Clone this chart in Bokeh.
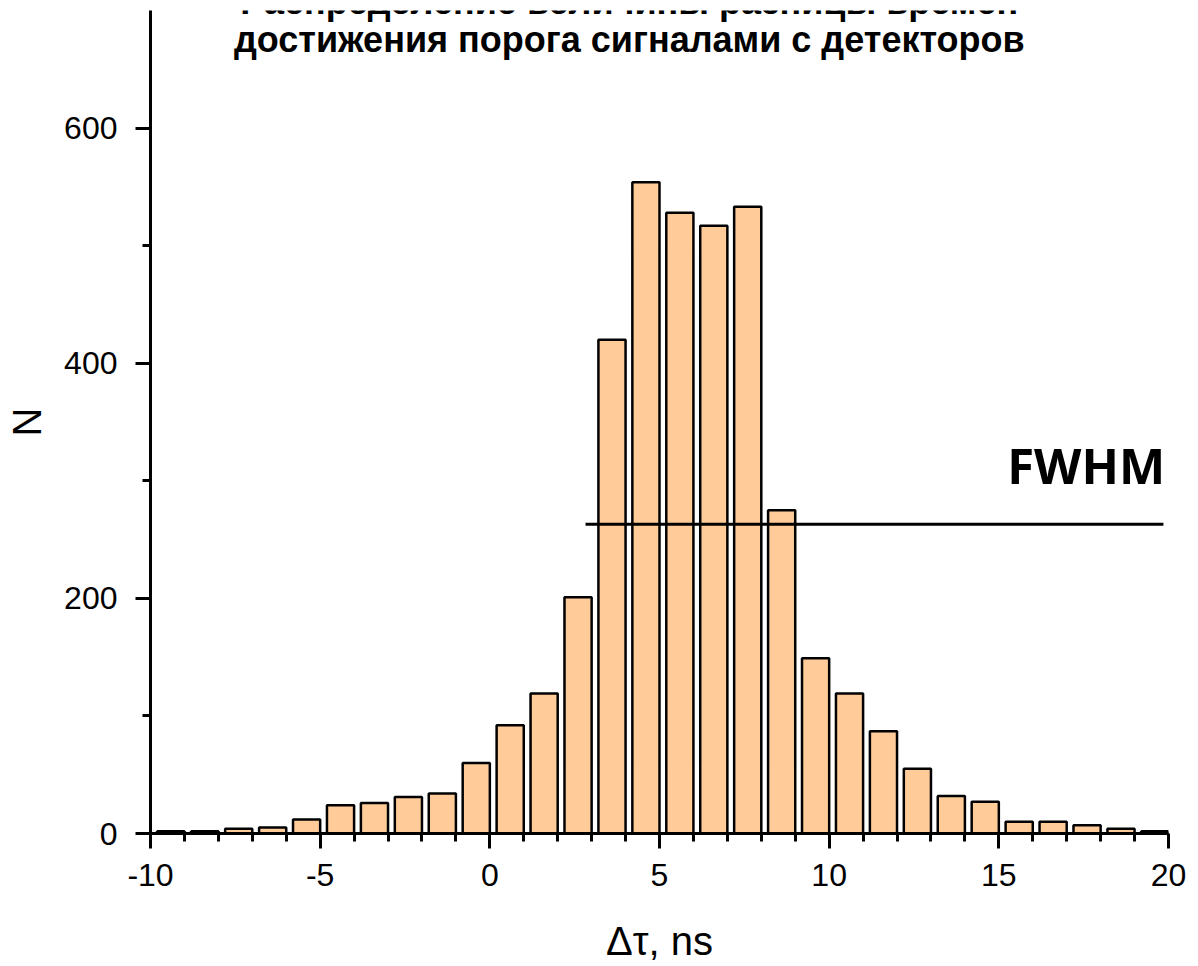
from bokeh.plotting import figure
from bokeh.models import FixedTicker, Label, ColumnDataSource
from bokeh.embed import file_html
from bokeh.resources import INLINE

# ---- data ----
bin_start = list(range(-10, 20))
counts = [2, 2, 4, 5, 12, 24, 26, 31, 34, 60,
          92, 119, 201, 420, 554, 528, 517, 533, 275, 149,
          119, 87, 55, 32, 27, 10, 10, 7, 4, 2]
fwhm_x = [2.82, 19.85]
fwhm_level = 263
x_major = [-10, -5, 0, 5, 10, 15, 20]
x_minor = [v for v in range(-10, 21) if v % 5 != 0]
x_labels = {-10: "-10", -5: "-5"}
y_major = [0, 200, 400, 600]
y_minor = [100, 300, 500]
title_lines = ["Распределение величины разницы времен",
               "достижения порога сигналами с детекторов"]

bar_gap = 0.2
src = ColumnDataSource(dict(
    left=[b + bar_gap for b in bin_start],
    right=[b + 1 for b in bin_start],
    top=counts,
    bottom=[0] * len(counts),
))

p = figure(width=1198, height=966, x_range=(-10, 20), y_range=(0, 700),
           output_backend="svg", toolbar_location=None,
           min_border_left=150, min_border_right=30,
           min_border_top=10, min_border_bottom=133)
p.outline_line_color = None
p.grid.visible = False
p.background_fill_color = "white"

p.quad(left="left", right="right", top="top", bottom="bottom", source=src,
       fill_color="#FFCC99", line_color="black", line_width=2.5)

p.line(x=fwhm_x, y=[fwhm_level, fwhm_level], line_color="black", line_width=3)

FONT = "Liberation Sans"
for ax in (p.xaxis[0], p.yaxis[0]):
    ax.axis_line_width = 3
    ax.axis_line_color = "black"
    ax.major_tick_line_width = 3
    ax.minor_tick_line_width = 3
    ax.major_tick_out = 15
    ax.major_tick_in = 0
    ax.minor_tick_out = 8
    ax.minor_tick_in = 0
    ax.major_label_text_font = FONT
    ax.major_label_text_font_size = "32px"
    ax.major_label_text_color = "black"
    ax.axis_label_text_font = FONT
    ax.axis_label_text_font_style = "normal"
    ax.axis_label_text_font_size = "40px"
    ax.axis_label_text_color = "black"

p.xaxis.ticker = FixedTicker(ticks=x_major, minor_ticks=x_minor)
p.yaxis.ticker = FixedTicker(ticks=y_major, minor_ticks=y_minor)
p.xaxis.major_label_overrides = x_labels
p.xaxis.major_label_standoff = 15
p.yaxis.major_label_standoff = 18
p.xaxis.axis_label = "Δτ, ns"
p.yaxis.axis_label = "N"
p.xaxis.axis_label_standoff = 30
p.yaxis.axis_label_standoff = 12

title_font = "Liberation Sans"
p.add_layout(Label(x=4.11, y=708.0, text=title_lines[0], text_align="center",
                   text_baseline="alphabetic", text_font=title_font,
                   text_font_style="bold", text_font_size="36px", text_color="black"))
p.add_layout(Label(x=4.11, y=675.5, text=title_lines[1], text_align="center",
                   text_baseline="alphabetic", text_font=title_font,
                   text_font_style="bold", text_font_size="36px", text_color="black"))

p.add_layout(Label(x=19.9, y=313.5, text="FWHM", text_align="right",
                   text_baseline="alphabetic", text_font="Open Sans",
                   text_font_style="bold", text_font_size="49px", text_color="black"))

open("out.html", "w").write(file_html(p, INLINE))
